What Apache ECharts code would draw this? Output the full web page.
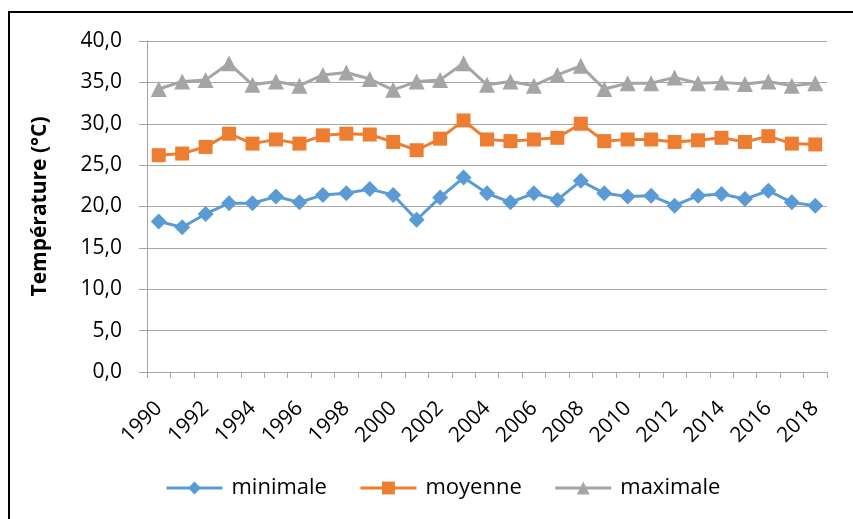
<!DOCTYPE html>
<html>
<head>
<meta charset="utf-8">
<script src="https://cdn.jsdelivr.net/npm/echarts@6/dist/echarts.min.js"></script>
<style>
    html, body{
        margin: 0;
        padding: 0;
        background: #ffffff;
        overflow: hidden;
    }
    .frame{
        position: absolute;
        left: 8px;
        top: 11px;
        width: 900px;
        height: 600px;
        border-left: solid 2px #000;
        border-top: solid 2px #000;
    }
    #main{
        position: absolute;
        left: 0;
        top: 0;
        width: 853px;
        height: 519px;
    }
</style>
</head>
<body>
<div class="frame"></div>
<div id="main"></div>
<script>
    // années 1990..2018
    var years = ['1990','1991','1992','1993','1994','1995','1996','1997','1998','1999',
        '2000','2001','2002','2003','2004','2005','2006','2007','2008','2009',
        '2010','2011','2012','2013','2014','2015','2016','2017','2018'];

    var minimale = [18.2, 17.5, 19.1, 20.4, 20.4, 21.2, 20.5, 21.4, 21.6, 22.1,
        21.4, 18.4, 21.1, 23.5, 21.6, 20.5, 21.6, 20.8, 23.1, 21.6,
        21.2, 21.3, 20.1, 21.3, 21.5, 20.9, 21.9, 20.5, 20.1];

    var moyenne = [26.2, 26.4, 27.2, 28.8, 27.6, 28.1, 27.6, 28.6, 28.8, 28.7,
        27.8, 26.8, 28.2, 30.4, 28.1, 27.9, 28.1, 28.3, 30.0, 27.9,
        28.1, 28.1, 27.8, 28.0, 28.3, 27.8, 28.5, 27.6, 27.5];

    var maximale = [34.2, 35.1, 35.3, 37.3, 34.7, 35.1, 34.6, 35.9, 36.2, 35.4,
        34.1, 35.1, 35.3, 37.3, 34.7, 35.1, 34.6, 35.9, 37.0, 34.2,
        34.9, 34.9, 35.6, 34.9, 35.0, 34.8, 35.1, 34.6, 34.9];

    var font = '"Open Sans", Lato, sans-serif';

    var myChart = echarts.init(document.getElementById('main'));
    myChart.setOption({
        animation: false,
        grid: {
            left: 147,
            right: 26,
            top: 41,
            bottom: 147
        },
        legend: {
            top: 472,
            left: 160,
            itemWidth: 56,
            itemHeight: 16,
            itemGap: 32,
            lineStyle: {width: 3},
            textStyle: {
                fontFamily: font,
                fontSize: 22,
                color: '#000',
                padding: [0, 0, 0, 4]
            },
            data: ['minimale', 'moyenne', 'maximale']
        },
        xAxis: {
            type: 'category',
            boundaryGap: true,
            data: years,
            axisLine: {lineStyle: {color: '#a6a6a6', width: 1}},
            axisTick: {
                show: true,
                interval: 0,
                length: 6,
                lineStyle: {color: '#a6a6a6'}
            },
            axisLabel: {
                interval: 1,
                rotate: 45,
                margin: 33,
                fontFamily: font,
                fontSize: 21,
                color: '#000'
            }
        },
        yAxis: {
            type: 'value',
            min: 0,
            max: 40,
            interval: 5,
            name: 'Température (°C)',
            nameLocation: 'middle',
            nameGap: 96,
            nameTextStyle: {
                fontFamily: font,
                fontSize: 21,
                fontWeight: 'bold',
                color: '#000'
            },
            axisLine: {show: true, lineStyle: {color: '#a6a6a6', width: 1}},
            axisTick: {show: true, length: 8, lineStyle: {color: '#a6a6a6'}},
            splitLine: {lineStyle: {color: '#a6a6a6', width: 1}},
            axisLabel: {
                margin: 25,
                fontFamily: font,
                fontSize: 21,
                color: '#000',
                formatter: function (v) {
                    return v.toFixed(1).replace('.', ',');
                }
            }
        },
        series: [
            {
                name: 'minimale',
                type: 'line',
                data: minimale,
                symbol: 'diamond',
                symbolSize: 16,
                showAllSymbol: true,
                itemStyle: {color: '#5b9bd5'},
                lineStyle: {width: 3, color: '#5b9bd5'}
            },
            {
                name: 'moyenne',
                type: 'line',
                data: moyenne,
                symbol: 'rect',
                symbolSize: 14,
                showAllSymbol: true,
                itemStyle: {color: '#ed7d31'},
                lineStyle: {width: 3, color: '#ed7d31'}
            },
            {
                name: 'maximale',
                type: 'line',
                data: maximale,
                symbol: 'triangle',
                symbolSize: 16,
                showAllSymbol: true,
                itemStyle: {color: '#a5a5a5'},
                lineStyle: {width: 3, color: '#a5a5a5'}
            }
        ]
    });
</script>
</body>
</html>
